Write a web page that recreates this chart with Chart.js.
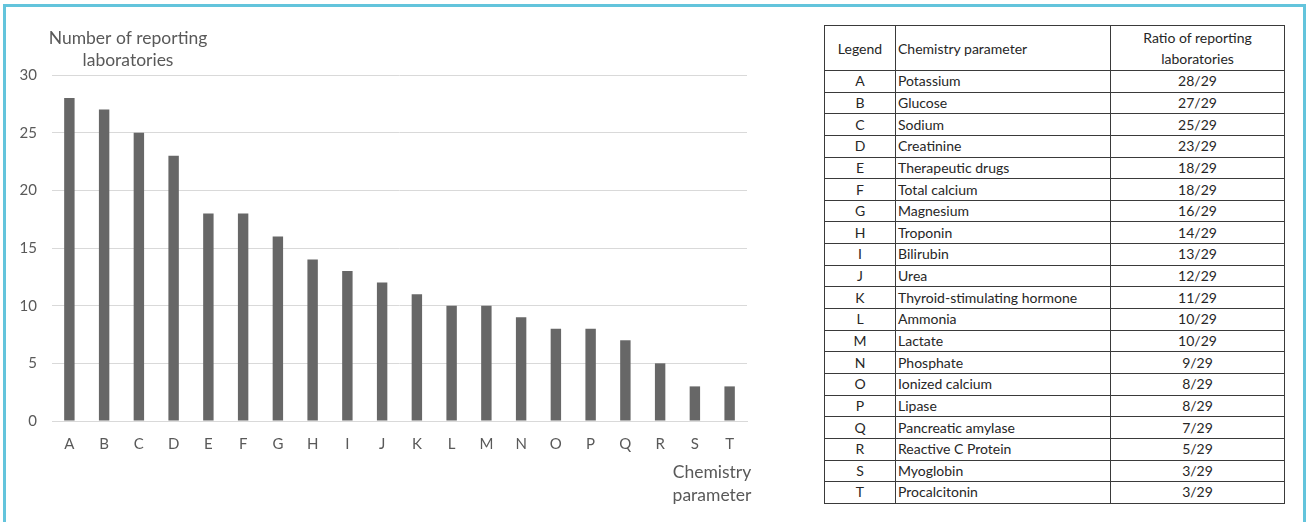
<!DOCTYPE html>
<html>
<head>
<meta charset="utf-8">
<script src="https://cdn.jsdelivr.net/npm/chart.js@4.4.1/dist/chart.umd.min.js"></script>
<style>
  html, body { margin: 0; padding: 0; background: #fff; }
  body { width: 1309px; height: 522px; position: relative; overflow: hidden; }
  .frame {
    position: absolute; left: 3px; top: 4px; width: 1297px; height: 540px;
    border: 3px solid #63c4dc;
  }
  .chart-box { position: absolute; left: 0; top: 0; width: 760px; height: 522px; }
  table.params {
    position: absolute; left: 824px; top: 25px;
    border-collapse: collapse; table-layout: fixed;
    font-family: Lato, "Liberation Sans", sans-serif; font-size: 14px; color: #262626;
  }
  table.params td, table.params th {
    border: 1px solid #3a3a3a; padding: 0 2px; font-weight: normal;
    height: 20.65px; line-height: 16px; white-space: nowrap; overflow: hidden;
  }
  table.params th { height: 44px; line-height: 21px; }
  table.params .c { text-align: center; }
  table.params .l { text-align: left; }
</style>
</head>
<body>
<div class="frame"></div>
<div class="chart-box"><canvas id="bars"></canvas></div>
<table class="params" id="paramTable">
  <colgroup><col style="width:71px"><col style="width:215px"><col style="width:174px"></colgroup>
</table>
<script>
// Chemistry parameters reported by the laboratories
const categories = ['A','B','C','D','E','F','G','H','I','J','K','L','M','N','O','P','Q','R','S','T'];
const parameterNames = [
  'Potassium', 'Glucose', 'Sodium', 'Creatinine', 'Therapeutic drugs',
  'Total calcium', 'Magnesium', 'Troponin', 'Bilirubin', 'Urea',
  'Thyroid-stimulating hormone', 'Ammonia', 'Lactate', 'Phosphate', 'Ionized calcium',
  'Lipase', 'Pancreatic amylase', 'Reactive C Protein', 'Myoglobin', 'Procalcitonin'
];
const labCounts = [28, 27, 25, 23, 18, 18, 16, 14, 13, 12, 11, 10, 10, 9, 8, 8, 7, 5, 3, 3];
const totalLabs = 29;
const yTickValues = [0, 5, 10, 15, 20, 25, 30];
const yAxisTitle = ['Number of reporting', 'laboratories'];
const xAxisTitle = ['Chemistry', 'parameter'];
const tableHeader = ['Legend', 'Chemistry parameter', ['Ratio of reporting', 'laboratories']];

// Build the legend table
const table = document.getElementById('paramTable');
const head = document.createElement('tr');
tableHeader.forEach((h, i) => {
  const th = document.createElement('th');
  th.className = i === 1 ? 'l' : 'c';
  th.innerHTML = Array.isArray(h) ? h.join('<br>') : h;
  head.appendChild(th);
});
table.appendChild(head);
categories.forEach((cat, i) => {
  const tr = document.createElement('tr');
  [[cat, 'c'], [parameterNames[i], 'l'], [labCounts[i] + '/' + totalLabs, 'c']].forEach(([txt, cls]) => {
    const td = document.createElement('td');
    td.className = cls;
    td.textContent = txt;
    tr.appendChild(td);
  });
  table.appendChild(tr);
});

// Horizontal axis captions placed relative to the plot area
const axisCaptions = {
  id: 'axisCaptions',
  afterDraw(chart) {
    const { ctx, chartArea } = chart;
    ctx.save();
    ctx.fillStyle = '#595959';
    ctx.font = '17.5px Lato, "Liberation Sans", sans-serif';
    ctx.textAlign = 'center';
    ctx.textBaseline = 'middle';
    const yx = chartArea.left + 76;
    yAxisTitle.forEach((t, i) => ctx.fillText(t, yx, chartArea.top - 37 + i * 22));
    const xx = chartArea.right - 35;
    xAxisTitle.forEach((t, i) => ctx.fillText(t, xx, chartArea.bottom + 51 + i * 23));
    ctx.restore();
  }
};

new Chart(document.getElementById('bars'), {
  type: 'bar',
  data: {
    labels: categories,
    datasets: [{
      data: labCounts,
      backgroundColor: '#676767',
      borderWidth: 0,
      barPercentage: 0.3,
      categoryPercentage: 1.0
    }]
  },
  options: {
    responsive: true,
    maintainAspectRatio: false,
    animation: false,
    layout: { padding: { left: 0, top: 75, right: 13, bottom: 0 } },
    plugins: { legend: { display: false }, tooltip: { enabled: false } },
    scales: {
      x: {
        grid: { display: false, drawTicks: false },
        border: { display: true, color: '#d9d9d9', width: 1 },
        ticks: { color: '#595959', font: { family: 'Lato, "Liberation Sans", sans-serif', size: 15 }, padding: 14, maxRotation: 0, autoSkip: false },
        afterFit(scale) { scale.height = 101; }
      },
      y: {
        min: 0, max: 30,
        afterBuildTicks(scale) { scale.ticks = yTickValues.map(v => ({ value: v })); },
        grid: { color: '#d9d9d9', drawTicks: false },
        border: { display: false },
        ticks: { color: '#595959', font: { family: 'Lato, "Liberation Sans", sans-serif', size: 15 }, padding: 15 },
        afterFit(scale) { scale.width = 52; }
      }
    }
  },
  plugins: [axisCaptions]
});
</script>
</body>
</html>
